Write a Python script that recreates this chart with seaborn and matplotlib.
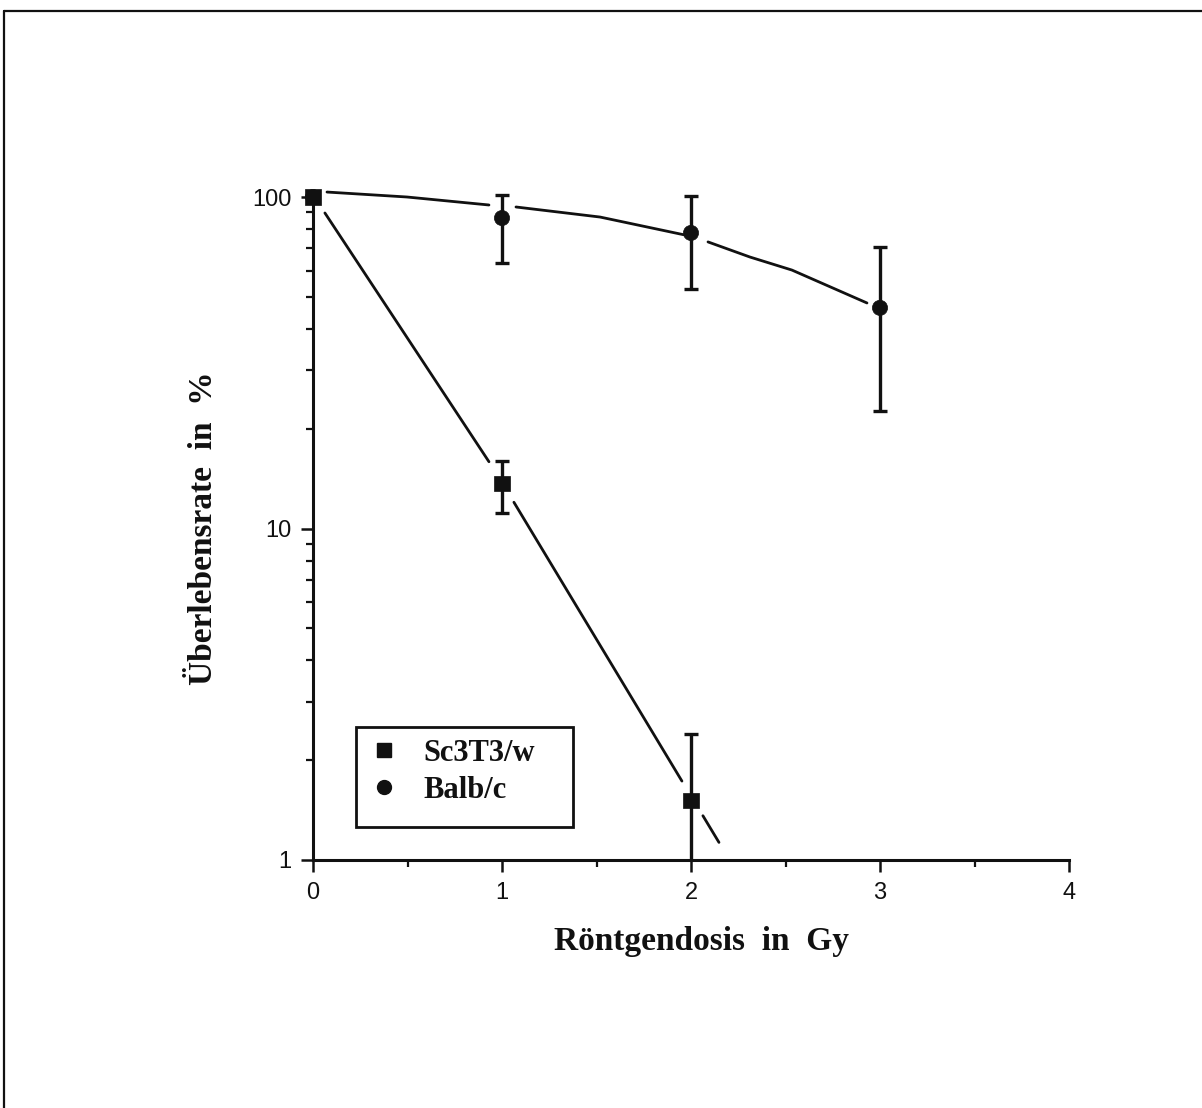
import matplotlib
matplotlib.use("Agg")
import matplotlib.pyplot as plt
import seaborn as sns
import pandas as pd
from matplotlib.lines import Line2D
from matplotlib.patches import Rectangle
from matplotlib.ticker import LogLocator, MultipleLocator, NullFormatter, FixedLocator, FixedFormatter
from matplotlib.font_manager import FontProperties

# ---------------- data ----------------
series_names = ["Sc3T3/w", "Balb/c"]

sc_dose = [0, 1, 2]
sc_surv = [100, 13.7, 1.51]
sc_err_lo = [100, 11.1, 0.9]
sc_err_hi = [100, 16.0, 2.40]

balb_dose = [0, 1, 2, 3]
balb_surv = [100, 86.4, 77.9, 46.3]
balb_err_lo = [100, 63.2, 52.8, 22.6]
balb_err_hi = [100, 101.4, 100.7, 70.7]

# fitted curves (drawn in pieces, interrupted at the markers as in the original)
sc_fit_x = [[0.063, 0.931], [1.063, 1.952], [2.063, 2.148]]
sc_fit_y = [[89.5, 15.9], [12.0, 1.73], [1.36, 1.13]]

balb_fit_x = [[0.074, 0.497, 0.931], [1.074, 1.519, 1.968], [2.090, 2.312, 2.534, 2.931]]
balb_fit_y = [[103.5, 100.0, 94.6], [93.3, 87.0, 76.8], [73.2, 65.9, 60.2, 47.9]]

x_ticks = [0, 1, 2, 3, 4]
x_tick_labels = ["0", "1", "2", "3", "4"]
y_ticks = [1, 10, 100]
y_tick_labels = ["1", "10", "100"]

x_label = "Röntgendosis  in  Gy"
y_label = "Überlebensrate  in  %"

# ---------------- figure ----------------
sns.set_theme(style="ticks")
plt.rcParams["font.family"] = ["Liberation Sans", "DejaVu Sans"]

INK = "#111111"
W, H = 1202, 1108
fig = plt.figure(figsize=(W / 100, H / 100), dpi=100)
fig.patch.set_facecolor("white")
ax = fig.add_axes([313 / W, 1 - 860 / H, 756 / W, 663 / H])
ax.set_facecolor("white")

# page frame lines (top and left)
fig.add_artist(Line2D([4 / W, 1.0], [1 - 11 / H, 1 - 11 / H], transform=fig.transFigure, color=INK, lw=1.6))
fig.add_artist(Line2D([4 / W, 4 / W], [0.0, 1 - 11 / H], transform=fig.transFigure, color=INK, lw=1.6))

# fitted curves
for xs, ys in zip(balb_fit_x, balb_fit_y):
    sns.lineplot(x=xs, y=ys, ax=ax, color=INK, lw=2.0, estimator=None, sort=False, legend=False)
for xs, ys in zip(sc_fit_x, sc_fit_y):
    sns.lineplot(x=xs, y=ys, ax=ax, color=INK, lw=2.0, estimator=None, sort=False, legend=False)
for ln in ax.lines:
    ln.set_clip_on(False)

# error bars
ax.errorbar(balb_dose[1:], balb_surv[1:],
            yerr=[[m - l for m, l in zip(balb_surv[1:], balb_err_lo[1:])],
                  [h - m for m, h in zip(balb_surv[1:], balb_err_hi[1:])]],
            fmt="none", ecolor=INK, elinewidth=2.4, capsize=5, capthick=2.4, clip_on=False, zorder=3)
ax.errorbar(sc_dose[1:], sc_surv[1:],
            yerr=[[m - l for m, l in zip(sc_surv[1:], sc_err_lo[1:])],
                  [h - m for m, h in zip(sc_surv[1:], sc_err_hi[1:])]],
            fmt="none", ecolor=INK, elinewidth=2.4, capsize=5, capthick=2.4, clip_on=True, zorder=3)

# points
pts = pd.DataFrame({
    "dose": balb_dose + sc_dose,
    "surv": balb_surv + sc_surv,
    "line": [series_names[1]] * len(balb_dose) + [series_names[0]] * len(sc_dose),
})
sns.scatterplot(data=pts, x="dose", y="surv", style="line", hue="line",
                markers={series_names[0]: "s", series_names[1]: "o"},
                palette={series_names[0]: INK, series_names[1]: INK},
                s=120, edgecolor=INK, linewidth=0.5, ax=ax, legend=False, zorder=5, clip_on=False)

# axes
ax.set_yscale("log")
ax.set_xlim(0, 4)
ax.set_ylim(1, 100)
ax.xaxis.set_major_locator(FixedLocator(x_ticks))
ax.xaxis.set_major_formatter(FixedFormatter(x_tick_labels))
ax.xaxis.set_minor_locator(MultipleLocator(0.5))
ax.yaxis.set_major_locator(FixedLocator(y_ticks))
ax.yaxis.set_major_formatter(FixedFormatter(y_tick_labels))
ax.yaxis.set_minor_locator(LogLocator(base=10, subs=range(2, 10)))
ax.yaxis.set_minor_formatter(NullFormatter())

for side in ["top", "right"]:
    ax.spines[side].set_visible(False)
for side in ["left", "bottom"]:
    ax.spines[side].set_linewidth(2.2)
    ax.spines[side].set_color(INK)

ax.tick_params(which="major", direction="out", length=8.6, width=1.8, color=INK,
               labelsize=17, labelcolor=INK, pad=7)
ax.tick_params(which="minor", direction="out", length=5, width=1.6, color=INK)
for lab in ax.get_xticklabels() + ax.get_yticklabels():
    lab.set_fontfamily(["Liberation Sans", "DejaVu Sans"])

lab_font = dict(family=["Liberation Serif", "DejaVu Serif"], weight="bold", size=24, color=INK)
ax.set_xlabel(x_label, **lab_font)
ax.set_ylabel(y_label, **lab_font)
ax.xaxis.set_label_coords((702 - 313) / 756, -(926 - 860) / 663)
ax.yaxis.set_label_coords(-(313 - 219) / 756, (860 - 528) / 663)

# legend
handles = [
    Line2D([], [], marker="s", ls="none", color=INK, markersize=10),
    Line2D([], [], marker="o", ls="none", color=INK, markersize=10),
]
leg = ax.legend(handles, series_names, loc="center left",
                bbox_to_anchor=((356 - 313) / 756, (860 - 772) / 663),
                borderaxespad=0, frameon=False, handlelength=1.0, handletextpad=0.8,
                borderpad=0.4, labelspacing=0.25,
                prop=FontProperties(family="Liberation Serif", weight="bold", size=22))
for t in leg.get_texts():
    t.set_color(INK)
ax.add_patch(Rectangle(((356 - 313) / 756, (860 - 827) / 663), 217 / 756, 100 / 663,
                       transform=ax.transAxes, fill=False, ec=INK, lw=2.0, clip_on=False, zorder=6))

fig.savefig("out.png", dpi=100, facecolor="white")
